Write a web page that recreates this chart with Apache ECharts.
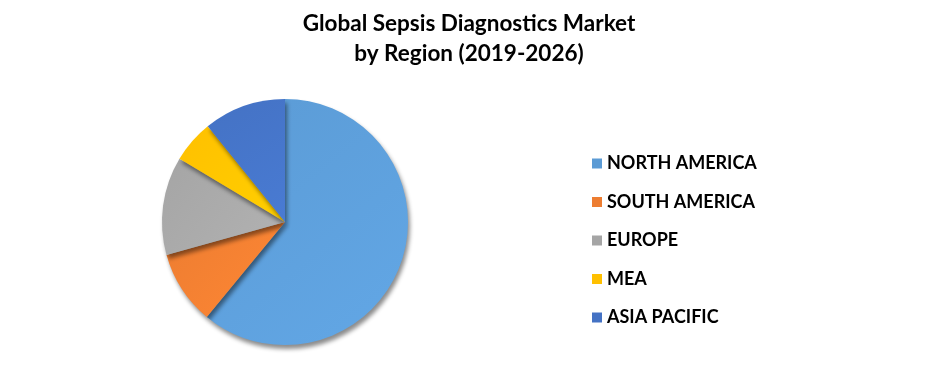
<!DOCTYPE html>
<html><head><meta charset="utf-8">
<script src="https://cdn.jsdelivr.net/npm/echarts@6/dist/echarts.min.js"></script>
<style>html,body{margin:0;padding:0;background:#fff}#c{width:939px;height:390px}</style>
</head><body><div id="c"></div>
<script>
const categories = ['NORTH AMERICA','SOUTH AMERICA','EUROPE','MEA','ASIA PACIFIC'];
const values = [60.9, 9.7, 12.9, 5.6, 10.8];
const colors = ['#5B9BD5','#ED7D31','#A5A5A5','#FFC000','#4472C4'];

function shade(c){
  return new echarts.graphic.LinearGradient(0,0,1,1,[
    {offset:0,color:echarts.color.lift(c,0.0)},
    {offset:1,color:echarts.color.lift(c,-0.08)}
  ]);
}
const chart = echarts.init(document.getElementById('c'));
chart.setOption({
  animation:false,
  title:{
    text:'Global Sepsis Diagnostics Market\nby Region (2019-2026)',
    left:464, top:4, textAlign:'center',
    textStyle:{fontFamily:'Lato',fontWeight:'bold',fontSize:22.5,lineHeight:30,color:'#000'}
  },
  legend:{
    orient:'vertical', left:592, top:154.5, padding:0,
    itemWidth:10, itemHeight:10, itemGap:20.5, icon:'rect',
    data:categories.map((n,i)=>({name:n,itemStyle:{color:colors[i]}})),
    textStyle:{fontFamily:'Lato',fontWeight:'bold',fontSize:18,lineHeight:18,color:'#000'}
  },
  series:[{
    type:'pie', center:[285,222], radius:123,
    startAngle:90, clockwise:true,
    label:{show:false}, labelLine:{show:false},
    emphasis:{disabled:true},
    data:categories.map((n,i)=>({name:n,value:values[i],
      itemStyle:{color:shade(colors[i]),shadowColor:'rgba(0,0,0,0.45)',shadowBlur:4,shadowOffsetX:2,shadowOffsetY:4}}))
  }]
});
</script></body></html>
